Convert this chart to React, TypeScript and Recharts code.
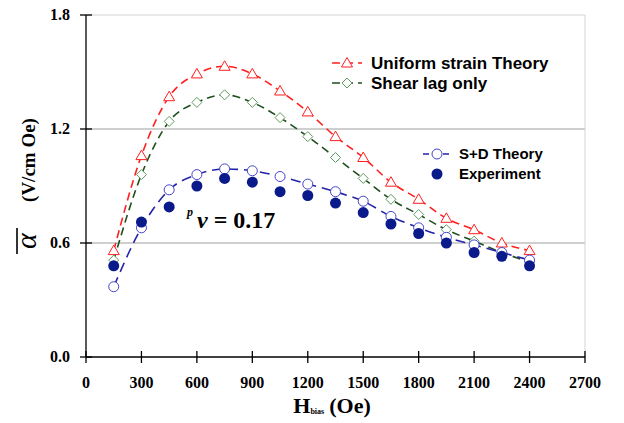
import { LineChart, Line, XAxis, YAxis, ReferenceLine } from 'recharts';

// H_bias (Oe)
const hBias = [150, 300, 450, 600, 750, 900, 1050, 1200, 1350, 1500, 1650, 1800, 1950, 2100, 2250, 2400];
const uniformStrain = [0.56, 1.06, 1.37, 1.49, 1.53, 1.49, 1.40, 1.29, 1.16, 1.05, 0.92, 0.83, 0.73, 0.67, 0.60, 0.56];
const shearLag = [0.51, 0.96, 1.24, 1.34, 1.38, 1.34, 1.26, 1.16, 1.05, 0.94, 0.83, 0.75, 0.67, 0.61, 0.55, 0.50];
const sdTheory = [0.37, 0.68, 0.88, 0.96, 0.99, 0.98, 0.95, 0.91, 0.87, 0.82, 0.74, 0.68, 0.63, 0.59, 0.55, 0.51];
const experiment = [0.48, 0.71, 0.79, 0.90, 0.94, 0.92, 0.87, 0.85, 0.81, 0.76, 0.70, 0.65, 0.60, 0.55, 0.53, 0.48];

const xTicks = [0, 300, 600, 900, 1200, 1500, 1800, 2100, 2400, 2700];
const yTicks = [0, 0.6, 1.2, 1.8];

const data = hBias.map((h, i) => ({
  h,
  uniform: uniformStrain[i],
  shear: shearLag[i],
  sd: sdTheory[i],
  exp: experiment[i],
}));

const RED = '#ff1f1f';
const GREEN_LINE = '#1f4f1f';
const GREEN_MARK = '#5f9a5f';
const BLUE_LINE = '#2323a8';
const BLUE_MARK = '#4545cc';
const NAVY = '#0a1a8a';
const serif = '"Liberation Serif", "Times New Roman", serif';
const sans = '"Liberation Sans", Arial, sans-serif';

const Triangle = ({ cx, cy }: { cx: number; cy: number }) => (
  <path d={`M${cx},${cy - 5.5} L${cx + 5.5},${cy + 4} L${cx - 5.5},${cy + 4} Z`} fill="#fff" stroke={RED} strokeWidth={1} />
);
const Diamond = ({ cx, cy }: { cx: number; cy: number }) => (
  <path d={`M${cx},${cy - 5} L${cx + 5},${cy} L${cx},${cy + 5} L${cx - 5},${cy} Z`} fill="#fff" stroke={GREEN_MARK} strokeWidth={1} />
);
const OpenCircle = ({ cx, cy }: { cx: number; cy: number }) => (
  <circle cx={cx} cy={cy} r={5} fill="#fff" stroke={BLUE_MARK} strokeWidth={1} />
);
const Filled = ({ cx, cy }: { cx: number; cy: number }) => <circle cx={cx} cy={cy} r={5.5} fill={NAVY} />;

const XTick = (props: any) => {
  const { x, y, payload } = props;
  const axisY = y - 6;
  return (
    <g>
      <line x1={x} x2={x} y1={axisY - 6} y2={axisY + 6} stroke="#000" strokeWidth={1.3} />
      <text x={x} y={axisY + 31} textAnchor="middle" fontFamily={serif} fontWeight="bold" fontSize={16} fill="#000">
        {payload.value}
      </text>
    </g>
  );
};

const YTick = (props: any) => {
  const { x, y, payload } = props;
  const axisX = x + 6;
  return (
    <g>
      <line x1={axisX - 6} x2={axisX + 6} y1={y} y2={y} stroke="#000" strokeWidth={1.3} />
      <text x={axisX - 16} y={y + 5} textAnchor="end" fontFamily={serif} fontWeight="bold" fontSize={16} fill="#000">
        {Number(payload.value).toFixed(1)}
      </text>
    </g>
  );
};

export default function App() {
  return (
    <div style={{ position: 'relative', width: 624, height: 423, background: '#fff' }}>
      <style>{'body{margin:0}'}</style>
      <LineChart width={624} height={423} data={data} margin={{ top: 15, right: 39, left: 0, bottom: 0 }}>
        <ReferenceLine y={0.6} stroke="#a0a0a0" strokeWidth={1.2} />
        <ReferenceLine y={1.2} stroke="#a0a0a0" strokeWidth={1.2} />
        <ReferenceLine y={1.8} stroke="#d4d4d4" />
        <ReferenceLine x={2700} stroke="#d4d4d4" />
        <XAxis
          dataKey="h"
          type="number"
          domain={[0, 2700]}
          ticks={xTicks}
          height={66}
          tickSize={6}
          tickMargin={0}
          tickLine={false}
          stroke="#000"
          strokeWidth={1.3}
          tick={<XTick />}
          interval={0}
        />
        <YAxis
          type="number"
          domain={[0, 1.8]}
          ticks={yTicks}
          width={86}
          tickSize={6}
          tickMargin={0}
          tickLine={false}
          stroke="#000"
          strokeWidth={1.3}
          tick={<YTick />}
          interval={0}
        />
        <Line
          dataKey="uniform"
          type="monotone"
          stroke={RED}
          strokeWidth={1.6}
          strokeDasharray="8 5"
          dot={(p: any) => <Triangle key={`u${p.index}`} cx={p.cx} cy={p.cy} />}
          isAnimationActive={false}
        />
        <Line
          dataKey="shear"
          type="monotone"
          stroke={GREEN_LINE}
          strokeWidth={1.6}
          strokeDasharray="8 5"
          dot={(p: any) => <Diamond key={`s${p.index}`} cx={p.cx} cy={p.cy} />}
          isAnimationActive={false}
        />
        <Line
          dataKey="sd"
          type="monotone"
          stroke={BLUE_LINE}
          strokeWidth={1.6}
          strokeDasharray="10 6"
          dot={(p: any) => <OpenCircle key={`d${p.index}`} cx={p.cx} cy={p.cy} />}
          isAnimationActive={false}
        />
        <Line
          dataKey="exp"
          type="monotone"
          stroke="none"
          dot={(p: any) => <Filled key={`e${p.index}`} cx={p.cx} cy={p.cy} />}
          isAnimationActive={false}
        />
      </LineChart>
      <svg width={624} height={423} style={{ position: 'absolute', left: 0, top: 0, pointerEvents: 'none' }}>
        {/* legend, upper */}
        <line x1={332} x2={362} y1={63} y2={63} stroke={RED} strokeWidth={1.6} strokeDasharray="8 5" />
        <Triangle cx={347} cy={63} />
        <text x={371} y={69} fontFamily={sans} fontWeight="bold" fontSize={17} fill="#000">Uniform strain Theory</text>
        <line x1={332} x2={362} y1={83} y2={83} stroke={GREEN_LINE} strokeWidth={1.6} strokeDasharray="8 5" />
        <Diamond cx={347} cy={83} />
        <text x={371} y={89} fontFamily={sans} fontWeight="bold" fontSize={17} fill="#000">Shear lag only</text>
        {/* legend, lower */}
        <line x1={423} x2={451} y1={154} y2={154} stroke={BLUE_LINE} strokeWidth={1.6} strokeDasharray="6 4" />
        <OpenCircle cx={437} cy={154} />
        <text x={459} y={159} fontFamily={sans} fontWeight="bold" fontSize={15} fill="#000">S+D Theory</text>
        <Filled cx={437} cy={174} />
        <text x={459} y={179} fontFamily={sans} fontWeight="bold" fontSize={15} fill="#000">Experiment</text>
        {/* annotation */}
        <text x={187} y={216} fontFamily={serif} fontWeight="bold" fontStyle="italic" fontSize={12} fill="#000">p</text>
        <text x={197} y={228} fontFamily={serif} fontWeight="bold" fontSize={24} fill="#000">
          <tspan fontStyle="italic">v</tspan> = 0.17
        </text>
        {/* y label */}
        <text
          transform="translate(36,241) rotate(-90)"
          textAnchor="middle"
          fontFamily={serif}
          fontStyle="italic"
          fontSize={30}
          fill="#000"
        >
          α
        </text>
        <line x1={17} x2={17} y1={228} y2={254} stroke="#000" strokeWidth={1.6} />
        <text
          transform="translate(35,160) rotate(-90)"
          textAnchor="middle"
          fontFamily={serif}
          fontWeight="bold"
          fontSize={19}
          fill="#000"
        >
          (V/cm Oe)
        </text>
        {/* x label */}
        <text x={332} y={413} textAnchor="middle" fontFamily={serif} fontWeight="bold" fontSize={22} fill="#000">
          H<tspan fontSize={8} dy={1}>bias</tspan>
          <tspan dy={-1} dx={5}>(Oe)</tspan>
        </text>
      </svg>
    </div>
  );
}
